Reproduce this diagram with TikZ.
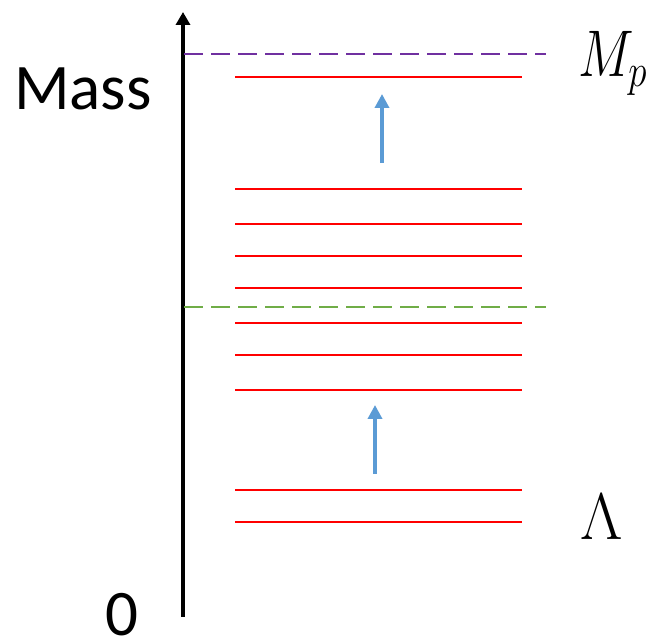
\documentclass[tikz,border=0pt]{standalone}
\usepackage{fix-cm}
\usepackage{graphicx}
\usepackage{fontspec}
\setmainfont{Carlito}
\usetikzlibrary{arrows.meta}
\definecolor{levelred}{HTML}{FF0000}
\definecolor{planckpurple}{HTML}{7030A0}
\definecolor{cutgreen}{HTML}{70AD47}
\definecolor{jumpblue}{HTML}{5B9BD5}
\begin{document}
\begin{tikzpicture}[x=0.5pt, y=0.5pt,
  level/.style={levelred, line width=1.3pt},
  cut/.style={line width=1pt, dash pattern=on 9.5pt off 4pt},
  jump/.style={jumpblue, line width=2pt, -{Triangle[length=7pt,width=7pt]}},
  big/.style={font=\fontsize{32.5}{39}\selectfont, inner sep=0pt}]
  \useasboundingbox (0,0) rectangle (660,642);
  % mass axis
  \coordinate (zero) at (183,25);
  \coordinate (top) at (183,630);
  \draw[line width=2pt, -{Triangle[length=6.5pt,width=7pt]}] (zero) -- (top);
  \node[big, anchor=base] (mass) at (83,532) {Mass};
  \node[big, anchor=base] (origin) at (122,6) {0};

  % dashed scales
  \coordinate (pl) at (184,588);
  \coordinate (pr) at (546,588);
  \draw[cut, planckpurple] (pl) -- (pr);
  \coordinate (gl) at (184,335);
  \coordinate (gr) at (546,335);
  \draw[cut, cutgreen] (gl) -- (gr);

  % red levels
  \foreach \y in {565,453,418,386,354,319,287,252,152,120} {
    \draw[level] (235,\y) -- (522,\y);
  }

  % blue jumps
  \coordinate (a1) at (382,479);
  \coordinate (b1) at (382,548);
  \draw[jump] (a1) -- (b1);
  \coordinate (a2) at (375,168);
  \coordinate (b2) at (375,237);
  \draw[jump] (a2) -- (b2);

  \node[font=\fontsize{33}{40}\selectfont, anchor=base west, inner sep=0pt] (planck) at (578,565) {\scalebox{0.8}[1]{$M_p$}};
  \node[font=\fontsize{33}{40}\selectfont, anchor=base west, inner sep=0pt] (lambda) at (580,102) {$\Lambda$};
\end{tikzpicture}
\end{document}
